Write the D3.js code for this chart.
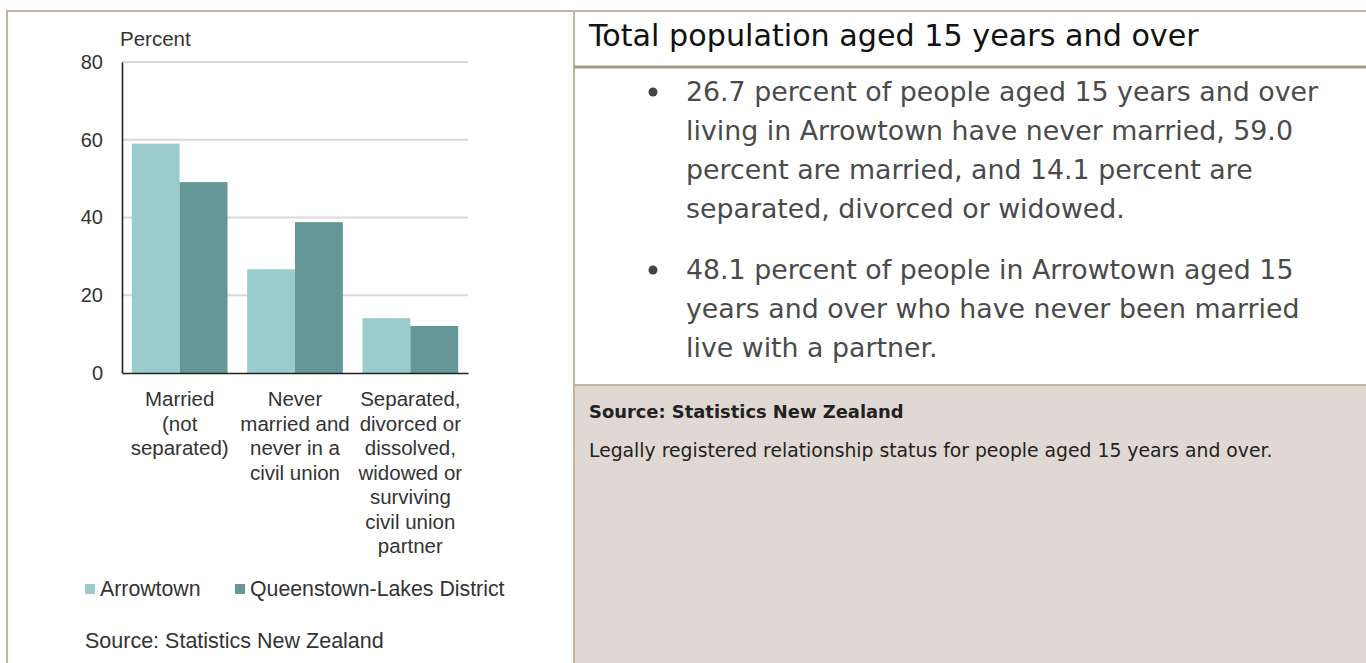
<!DOCTYPE html>
<html>
<head>
<meta charset="utf-8">
<script src="https://cdn.jsdelivr.net/npm/d3@7"></script>
<style>
  body { margin: 0; background: #fff; }
  svg { display: block; }
</style>
</head>
<body>
<div id="page"></div>
<script>
// chart data
var categories = [
    ["Married", "(not", "separated)"],
    ["Never", "married and", "never in a", "civil union"],
    ["Separated,", "divorced or", "dissolved,", "widowed or", "surviving", "civil union", "partner"]
];
var seriesNames = ["Arrowtown", "Queenstown-Lakes District"];
var arrowtown = [59.0, 26.7, 14.1];
var queenstown = [49.1, 38.8, 12.1];
var yTicks = [0, 20, 40, 60, 80];
var colors = ["#9bcccd", "#659797"];

// right panel text
var panelTitle = "Total population aged 15 years and over";
var bullets = [
    ["26.7 percent of people aged 15 years and over",
     "living in Arrowtown have never married, 59.0",
     "percent are married, and 14.1 percent are",
     "separated, divorced or widowed."],
    ["48.1 percent of people in Arrowtown aged 15",
     "years and over who have never been married",
     "live with a partner."]
];
var noteTitle = "Source: Statistics New Zealand";
var noteText = "Legally registered relationship status for people aged 15 years and over.";

var svgWidth = 1366;
var svgHeight = 663;

var svg = d3.select("#page")
    .append("svg")
    .attr("width", svgWidth)
    .attr("height", svgHeight);

// frame
var border = "#c2b4a4";
svg.append("rect")
    .attr("x", 575).attr("y", 385)
    .attr("width", svgWidth - 575).attr("height", svgHeight - 385)
    .attr("fill", "#e0d9d3");
svg.append("line").attr("x1", 7).attr("x2", svgWidth).attr("y1", 11).attr("y2", 11)
    .attr("stroke", border).attr("stroke-width", 2);
svg.append("line").attr("x1", 7).attr("x2", 7).attr("y1", 10).attr("y2", svgHeight)
    .attr("stroke", border).attr("stroke-width", 2);
svg.append("line").attr("x1", 574).attr("x2", 574).attr("y1", 10).attr("y2", svgHeight)
    .attr("stroke", border).attr("stroke-width", 2);
svg.append("line").attr("x1", 574).attr("x2", svgWidth).attr("y1", 385).attr("y2", 385)
    .attr("stroke", border).attr("stroke-width", 2);
svg.append("line").attr("x1", 574).attr("x2", svgWidth).attr("y1", 67).attr("y2", 67)
    .attr("stroke", "#a89782").attr("stroke-width", 3);

// ---------------- chart ----------------
var margin = { top: 62, left: 122 };
var width = 346;
var height = 311;
var chartFont = "'Liberation Sans', Arial, sans-serif";

var chartGroup = svg.append("g")
    .attr("transform", `translate(${margin.left}, ${margin.top})`)
    .style("font-family", chartFont);

var x0 = d3.scaleBand()
    .domain(d3.range(categories.length))
    .range([0, width])
    .paddingInner(0.17)
    .paddingOuter(0.085);

var x1 = d3.scaleBand()
    .domain([0, 1])
    .range([0, x0.bandwidth()]);

var y = d3.scaleLinear()
    .domain([0, 80])
    .range([height, 0]);

// gridlines
chartGroup.append("g")
    .selectAll("line")
    .data(yTicks.filter(d => d > 0))
    .enter()
    .append("line")
    .attr("x1", 0)
    .attr("x2", width)
    .attr("y1", d => y(d))
    .attr("y2", d => y(d))
    .attr("stroke", "#d9d9d9")
    .attr("stroke-width", 2);

// bars
var rows = categories.map((c, i) => [arrowtown[i], queenstown[i]]);
chartGroup.selectAll(".group")
    .data(rows)
    .enter()
    .append("g")
    .attr("class", "group")
    .attr("transform", (d, i) => `translate(${x0(i)}, 0)`)
    .selectAll("rect")
    .data(d => d)
    .enter()
    .append("rect")
    .attr("x", (d, j) => x1(j))
    .attr("y", d => y(d))
    .attr("width", x1.bandwidth())
    .attr("height", d => height - y(d))
    .attr("fill", (d, j) => colors[j]);

// y axis
var yAxis = d3.axisLeft(y).tickValues(yTicks).tickSize(0).tickPadding(19);
var yAxisG = chartGroup.append("g").call(yAxis);
yAxisG.select(".domain").attr("stroke", "#222").attr("stroke-width", 1.6);
yAxisG.selectAll("text")
    .attr("font-size", 20)
    .attr("fill", "#333")
    .attr("font-family", chartFont);

// x axis
var xAxis = d3.axisBottom(x0).tickSize(0).tickFormat("");
var xAxisG = chartGroup.append("g")
    .attr("transform", `translate(0, ${height})`)
    .call(xAxis);
xAxisG.select(".domain").attr("stroke", "#222").attr("stroke-width", 1.6);

// category labels
chartGroup.selectAll(".catlabel")
    .data(categories)
    .enter()
    .append("text")
    .attr("class", "catlabel")
    .attr("text-anchor", "middle")
    .attr("font-size", 20.5)
    .attr("fill", "#333")
    .attr("transform", (d, i) => `translate(${x0(i) + x0.bandwidth() / 2}, ${height + 33})`)
    .selectAll("tspan")
    .data(d => d)
    .enter()
    .append("tspan")
    .attr("x", 0)
    .attr("dy", (d, k) => k === 0 ? 0 : 24.5)
    .text(d => d);

// axis title
chartGroup.append("text")
    .attr("x", -2)
    .attr("y", -16)
    .attr("font-size", 20.5)
    .attr("fill", "#333")
    .text("Percent");

// legend
var legend = svg.append("g")
    .style("font-family", chartFont)
    .selectAll("g")
    .data(seriesNames)
    .enter()
    .append("g")
    .attr("transform", (d, i) => `translate(${i === 0 ? 85 : 235}, 589)`);
legend.append("rect")
    .attr("x", 0).attr("y", -5)
    .attr("width", 10).attr("height", 10)
    .attr("fill", (d, i) => colors[i]);
legend.append("text")
    .attr("x", 15)
    .attr("y", 7)
    .attr("font-size", 21.3)
    .attr("fill", "#333")
    .text(d => d);

svg.append("text")
    .attr("x", 85)
    .attr("y", 648)
    .attr("font-size", 21.5)
    .attr("fill", "#333")
    .style("font-family", chartFont)
    .text("Source: Statistics New Zealand");

// ---------------- right panel ----------------
var panel = svg.append("g").style("font-family", "'DejaVu Sans', sans-serif");

panel.append("text")
    .attr("x", 589)
    .attr("y", 46)
    .attr("font-size", 30.2)
    .attr("fill", "#111")
    .text(panelTitle);

var lineY = 101;
bullets.forEach(function (lines, b) {
    panel.append("circle")
        .attr("cx", 653)
        .attr("cy", lineY - 9)
        .attr("r", 4.5)
        .attr("fill", "#444");
    lines.forEach(function (t) {
        panel.append("text")
            .attr("x", 686)
            .attr("y", lineY)
            .attr("font-size", 26.8)
            .attr("fill", "#4a4a4a")
            .text(t);
        lineY += 39;
    });
    lineY += 22;
});

panel.append("text")
    .attr("x", 589)
    .attr("y", 418)
    .attr("font-size", 17.9)
    .attr("font-weight", 600)
    .attr("fill", "#222")
    .text(noteTitle);

panel.append("text")
    .attr("x", 589)
    .attr("y", 457)
    .attr("font-size", 18.8)
    .attr("fill", "#222")
    .text(noteText);
</script>
</body>
</html>
